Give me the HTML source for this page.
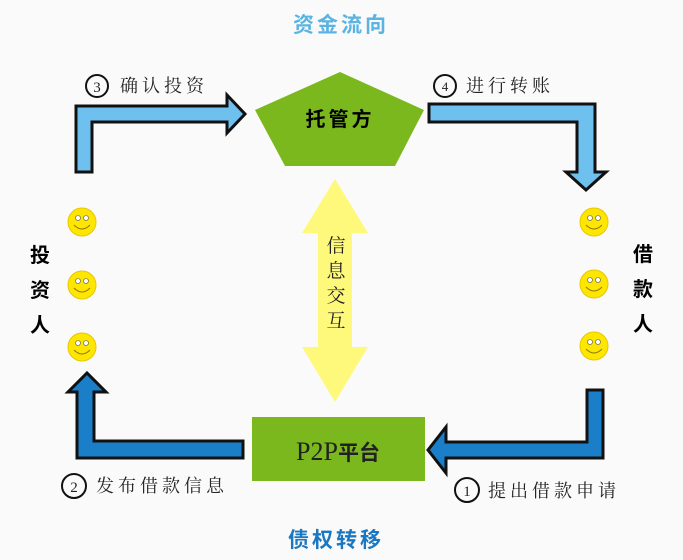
<!DOCTYPE html>
<html><head><meta charset="utf-8"><style>
body{margin:0;background:#fafafa;}
svg{display:block;font-family:"Liberation Serif","Noto Serif CJK SC",serif;}
</style></head><body>
<svg width="683" height="560" viewBox="0 0 683 560">
<defs>
<g id="sm"><circle r="14" fill="#ffe600" stroke="#e6c800" stroke-width="1"/><circle cx="-4" cy="-4" r="2.5" fill="#fff" stroke="#555" stroke-width="0.6"/><circle cx="4" cy="-4" r="2.5" fill="#fff" stroke="#555" stroke-width="0.6"/><path d="M-8 3 Q0 11 8 3" fill="none" stroke="#8a7a00" stroke-width="1"/></g>
</defs>
<text x="341" y="32" font-size="21" fill="#5ab4e2" text-anchor="middle" font-family="Liberation Sans,Noto Sans CJK SC,sans-serif" font-weight="bold" letter-spacing="3">资金流向</text>
<text x="336" y="547" font-size="21" fill="#1a78c2" text-anchor="middle" font-family="Liberation Sans,Noto Sans CJK SC,sans-serif" font-weight="bold" letter-spacing="3">债权转移</text>
<path d="M76 172 L76 106 L227 106 L227 95 L245 114 L227 133 L227 122 L92 122 L92 172 Z" fill="#6ec0ee" stroke="#111" stroke-width="3" stroke-linejoin="miter"/>
<path d="M429 104 L595 104 L595 172 L606 172 L586 190 L566 172 L577 172 L577 122 L429 122 Z" fill="#6ec0ee" stroke="#111" stroke-width="3"/>
<path d="M587 390 L603 390 L603 458 L446 458 L446 473 L428 450 L446 427 L446 442 L587 442 Z" fill="#1a7fc8" stroke="#111" stroke-width="3"/>
<path d="M243 441 L243 458 L77 458 L77 392 L68 392 L87 373 L106 392 L94 392 L94 441 Z" fill="#1a7fc8" stroke="#111" stroke-width="3"/>
<polygon points="340,72 424,110 395,166 285,166 255,110" fill="#7ab81e"/>
<text x="340" y="126" font-size="20" text-anchor="middle" font-weight="bold" font-family="Liberation Sans,Noto Sans CJK SC,sans-serif" letter-spacing="3">托管方</text>
<polygon points="335,179 368,233 352,233 352,347 368,347 335,402 302,347 318,347 318,233 302,233" fill="#fef97a"/>
<g font-size="19" text-anchor="middle" fill="#222"><text x="336" y="252">信</text><text x="336" y="277">息</text><text x="336" y="302">交</text><text x="336" y="327">互</text></g>
<rect x="252" y="417" width="173" height="64" fill="#7ab81e"/>
<text x="338" y="460" font-size="26" text-anchor="middle" fill="#222">P2P<tspan font-size="21" font-weight="bold" font-family="Liberation Sans,Noto Sans CJK SC,sans-serif">平台</tspan></text>
<g font-size="18" fill="#222" letter-spacing="4">
<circle cx="97" cy="86" r="11" fill="none" stroke="#111" stroke-width="2"/><text x="97" y="92" font-size="15" text-anchor="middle" letter-spacing="0">3</text>
<text x="120" y="92">确认投资</text>
<circle cx="445" cy="86" r="11" fill="none" stroke="#111" stroke-width="2"/><text x="445" y="91" font-size="13" text-anchor="middle" letter-spacing="0">4</text>
<text x="466" y="92">进行转账</text>
<circle cx="74" cy="486" r="12" fill="none" stroke="#111" stroke-width="2"/><text x="74" y="492" font-size="15" text-anchor="middle" letter-spacing="0">2</text>
<text x="96" y="492">发布借款信息</text>
<circle cx="467" cy="490" r="12" fill="none" stroke="#111" stroke-width="2"/><text x="467" y="496" font-size="15" text-anchor="middle" letter-spacing="0">1</text>
<text x="488" y="497">提出借款申请</text>
</g>
<g font-size="20" font-weight="bold" text-anchor="middle" font-family="Liberation Sans,Noto Sans CJK SC,sans-serif">
<text x="40" y="262">投</text><text x="40" y="297">资</text><text x="40" y="332">人</text>
<text x="643" y="261">借</text><text x="643" y="296">款</text><text x="643" y="331">人</text>
</g>
<use href="#sm" x="82" y="222"/><use href="#sm" x="82" y="285"/><use href="#sm" x="82" y="347"/>
<use href="#sm" x="594" y="222"/><use href="#sm" x="594" y="284"/><use href="#sm" x="594" y="346"/>
</svg>
</body></html>
